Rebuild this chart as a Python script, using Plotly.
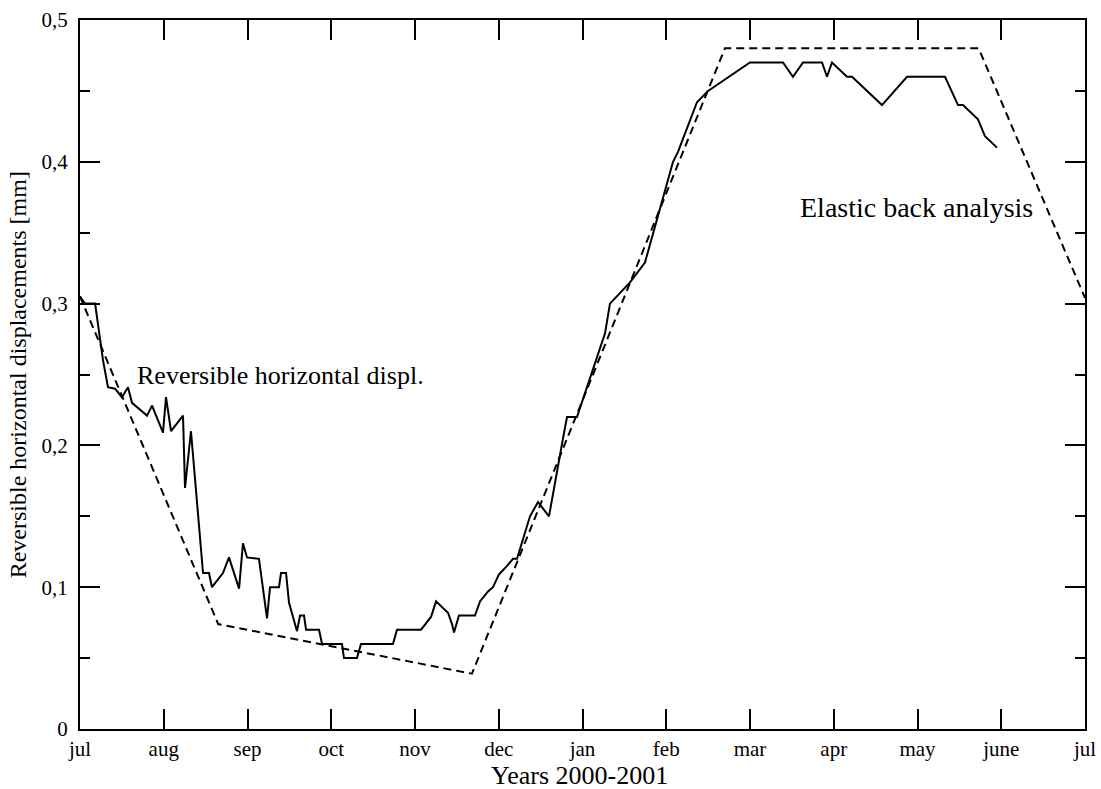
import plotly.graph_objects as go

# Month index: 0 = July 2000 ... 12 = July 2001
month_labels = ["jul", "aug", "sep", "oct", "nov", "dec", "jan", "feb",
                "mar", "apr", "may", "june", "jul"]
month_pos = list(range(13))

y_tick_vals = [0, 0.1, 0.2, 0.3, 0.4, 0.5]
y_tick_text = ["0", "0,1", "0,2", "0,3", "0,4", "0,5"]

# Measured reversible horizontal displacement (solid)
meas_t = [0.0, 0.06, 0.18, 0.275, 0.334, 0.418, 0.50, 0.573, 0.621, 0.80, 0.86,
          0.991, 1.027, 1.087, 1.23, 1.254, 1.325, 1.469, 1.54, 1.576, 1.707,
          1.779, 1.899, 1.946, 1.994, 2.137, 2.233, 2.269, 2.376, 2.40, 2.46,
          2.496, 2.591, 2.627, 2.675, 2.699, 2.854, 2.89, 3.128, 3.152, 3.307,
          3.355, 3.737, 3.785, 4.072, 4.191, 4.251, 4.394, 4.442, 4.466, 4.525,
          4.716, 4.776, 4.872, 4.931, 5.003, 5.099, 5.170, 5.218, 5.373, 5.469,
          5.60, 5.767, 5.815, 5.934, 6.269, 6.328, 6.567, 6.746, 6.901, 7.081,
          7.140, 7.367, 7.499, 8.0, 8.394, 8.513, 8.633, 8.86, 8.919, 8.979,
          9.158, 9.218, 9.576, 9.875, 10.328, 10.484, 10.543, 10.722, 10.806,
          10.949]
meas_d = [0.305, 0.30, 0.30, 0.26, 0.241, 0.24, 0.234, 0.241, 0.23, 0.221, 0.228,
          0.209, 0.234, 0.21, 0.221, 0.17, 0.21, 0.11, 0.11, 0.10, 0.11,
          0.121, 0.099, 0.131, 0.121, 0.12, 0.078, 0.10, 0.10, 0.11, 0.11,
          0.089, 0.069, 0.08, 0.08, 0.07, 0.07, 0.06, 0.06, 0.05, 0.05,
          0.06, 0.06, 0.07, 0.07, 0.079, 0.09, 0.082, 0.074, 0.068, 0.08,
          0.08, 0.09, 0.097, 0.10, 0.109, 0.115, 0.12, 0.12, 0.15, 0.16,
          0.15, 0.205, 0.22, 0.22, 0.279, 0.30, 0.315, 0.329, 0.361, 0.40,
          0.407, 0.442, 0.45, 0.47, 0.47, 0.46, 0.47, 0.47, 0.46, 0.47,
          0.46, 0.46, 0.44, 0.46, 0.46, 0.44, 0.44, 0.43, 0.418,
          0.41]

# Elastic back analysis (dashed)
model_t = [0.0, 1.65, 4.68, 7.70, 10.73, 12.0]
model_d = [0.305, 0.074, 0.039, 0.48, 0.48, 0.304]

SERIF = "Liberation Serif, Times New Roman, serif"

fig = go.Figure()
fig.add_trace(go.Scatter(x=model_t, y=model_d, mode="lines",
                         line=dict(color="black", width=2, dash="8px,5px"),
                         showlegend=False, hoverinfo="skip"))
fig.add_trace(go.Scatter(x=meas_t, y=meas_d, mode="lines",
                         line=dict(color="black", width=2),
                         showlegend=False, hoverinfo="skip"))

fig.update_layout(
    width=1101, height=789,
    margin=dict(l=80, r=16, t=20, b=60),
    paper_bgcolor="white", plot_bgcolor="white",
    font=dict(family=SERIF, color="black", size=21),
    xaxis=dict(range=[0, 12], tickmode="array", tickvals=month_pos,
               ticktext=month_labels, ticks="inside", ticklen=20, tickwidth=2,
               tickcolor="black", showline=True, linewidth=2, linecolor="black",
               mirror="ticks", showgrid=False, zeroline=False,
               automargin=False, ticklabeloverflow="allow",
               tickfont=dict(family=SERIF, size=21)),
    yaxis=dict(range=[0, 0.5], tickmode="array", tickvals=y_tick_vals,
               ticktext=y_tick_text, ticks="inside", ticklen=20, tickwidth=2,
               tickcolor="black", showline=True, linewidth=2, linecolor="black",
               mirror="ticks", showgrid=False, zeroline=False,
               automargin=False, ticklabelstandoff=6,
               minor=dict(dtick=0.05, ticks="inside", ticklen=10, tickwidth=2,
                          tickcolor="black", showgrid=False),
               tickfont=dict(family=SERIF, size=21)),
    annotations=[
        dict(text="Reversible horizontal displ.", x=0.657, y=0.249,
             xref="x", yref="y", xanchor="left", yanchor="middle",
             showarrow=False, font=dict(family=SERIF, size=26)),
        dict(text="Elastic back analysis", x=8.57, y=0.368,
             xref="x", yref="y", xanchor="left", yanchor="middle",
             showarrow=False, font=dict(family=SERIF, size=28)),
        dict(text="Years 2000-2001", x=0.497, y=-0.065, xref="paper",
             yref="paper", xanchor="center", yanchor="middle",
             showarrow=False, font=dict(family=SERIF, size=26)),
        dict(text="Reversible horizontal displacements [mm]", x=-0.0616,
             y=0.499, xref="paper", yref="paper", xanchor="center",
             yanchor="middle", textangle=-90, showarrow=False,
             font=dict(family=SERIF, size=24)),
    ],
)

fig.write_html("out.html")
